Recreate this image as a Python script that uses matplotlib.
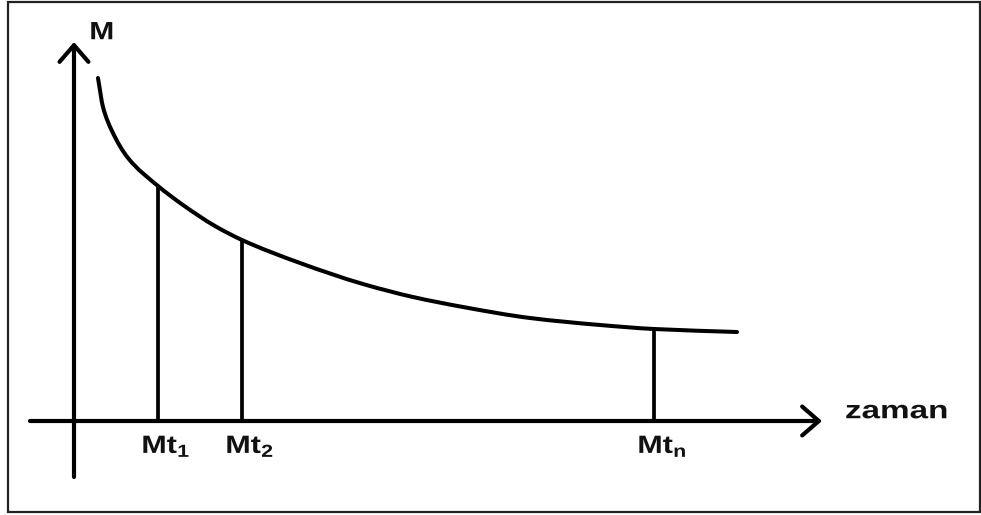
import matplotlib
matplotlib.use("Agg")
import numpy as np
import matplotlib.pyplot as plt
from matplotlib.patches import Rectangle, PathPatch
from matplotlib.path import Path
from matplotlib.transforms import Affine2D
from matplotlib.patheffects import AbstractPathEffect

plt.rcParams['font.family'] = ['Liberation Sans', 'DejaVu Sans']
plt.rcParams['mathtext.fontset'] = 'custom'
plt.rcParams['mathtext.rm'] = 'Liberation Sans:bold'
plt.rcParams['mathtext.bf'] = 'Liberation Sans:bold'
plt.rcParams['mathtext.it'] = 'Liberation Sans:bold'

# Curve M(t)
time = [24, 29, 38, 54, 84, 109, 141, 168, 226, 289, 339, 389, 456, 526, 580, 663]
mass = [343, 314, 290, 263, 235, 216, 195, 181, 158, 137, 124, 114, 103, 96, 92, 89]

# Marked times and the curve value at each
mark_times = [84, 168, 580]
mark_values = [235, 181, 92]
mark_labels = [r"$\mathbf{Mt_1}$", r"$\mathbf{Mt_2}$", r"$\mathbf{Mt_n}$"]

x_label = "zaman"
y_label = "M"

# Axis extents
x_axis = (-44, 748)
y_axis = (-56, 379)


class Stretch(AbstractPathEffect):
    """Widen glyphs horizontally (the reference lettering is stretched)."""
    def __init__(self, sx):
        super().__init__()
        self.sx = sx

    def draw_path(self, renderer, gc, tpath, affine, rgbFace=None):
        renderer.draw_path(gc, tpath, Affine2D().scale(self.sx, 1) + affine, rgbFace)


def smooth_path(xs, ys):
    """Monotone (PCHIP-style) cubic Bezier path through the given points."""
    x = np.asarray(xs, float)
    y = np.asarray(ys, float)
    h = np.diff(x)
    d = np.diff(y) / h
    m = np.zeros_like(x)
    m[0], m[-1] = d[0], d[-1]
    for i in range(1, len(x) - 1):
        if d[i - 1] * d[i] > 0:
            w1 = 2 * h[i] + h[i - 1]
            w2 = h[i] + 2 * h[i - 1]
            m[i] = (w1 + w2) / (w1 / d[i - 1] + w2 / d[i])
    verts = [(x[0], y[0])]
    codes = [Path.MOVETO]
    for i in range(len(x) - 1):
        verts += [(x[i] + h[i] / 3, y[i] + m[i] * h[i] / 3),
                  (x[i + 1] - h[i] / 3, y[i + 1] - m[i + 1] * h[i] / 3),
                  (x[i + 1], y[i + 1])]
        codes += [Path.CURVE4] * 3
    return Path(verts, codes)


fig = plt.figure(figsize=(9.81, 5.15), dpi=100)
ax = fig.add_axes([0, 0, 1, 1])
ax.set_xlim(-74, 907)
ax.set_ylim(-94, 421)
ax.axis('off')

# frame
fig.patches.append(Rectangle((8 / 981, 3 / 515), 972 / 981, 510 / 515,
                             transform=fig.transFigure, fill=False,
                             edgecolor='#222222', lw=1.6))

arrow_style = '->,head_length=0.6,head_width=0.52'
ax.annotate('', xy=(x_axis[1], 0), xytext=(x_axis[0], 0),
            arrowprops=dict(arrowstyle=arrow_style, lw=3.0, color='black',
                            shrinkA=0, shrinkB=0, mutation_scale=20))
ax.annotate('', xy=(0, y_axis[1]), xytext=(0, y_axis[0]),
            arrowprops=dict(arrowstyle=arrow_style, lw=3.0, color='black',
                            shrinkA=0, shrinkB=0, mutation_scale=20))

ax.add_patch(PathPatch(smooth_path(time, mass), fill=False, edgecolor='black',
                       lw=2.9, capstyle='round', transform=ax.transData))

ax.vlines(mark_times, 0, mark_values, color='black', lw=2.7)

for t, lab in zip(mark_times, mark_labels):
    ax.annotate(lab, xy=(t, 0), xytext=(-12, -23), textcoords='offset points',
                ha='left', va='baseline', fontsize=18, color='#111111',
                path_effects=[Stretch(1.22)])

ax.annotate(x_label, xy=(x_axis[1], 0), xytext=(16.5, 2), textcoords='offset points',
            ha='left', va='baseline', fontsize=18, fontweight='bold', color='#111111',
            path_effects=[Stretch(1.33)])
ax.annotate(y_label, xy=(0, y_axis[1]), xytext=(11, 2), textcoords='offset points',
            ha='left', va='baseline', fontsize=18, fontweight='bold', color='#111111',
            path_effects=[Stretch(1.2)])

fig.savefig('out.png', dpi=100)
